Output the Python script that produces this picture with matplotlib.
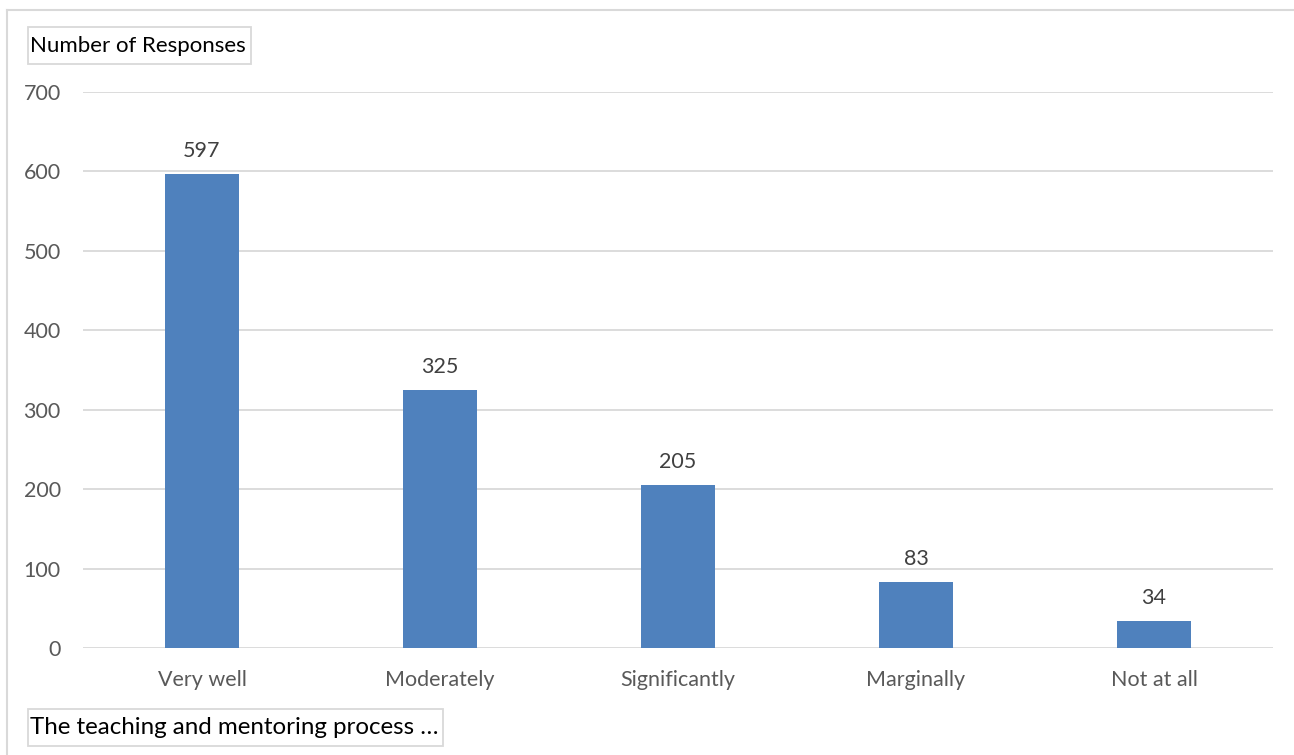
import matplotlib.pyplot as plt
from matplotlib.lines import Line2D
from matplotlib.patches import Rectangle

# data
categories = ['Very well', 'Moderately', 'Significantly', 'Marginally', 'Not at all']
responses = [597, 325, 205, 83, 34]
y_ticks = [0, 100, 200, 300, 400, 500, 600, 700]

W, H = 1294, 755
fig = plt.figure(figsize=(W / 100, H / 100), dpi=100)
fig.patch.set_linewidth(0)
plt.rcParams['font.family'] = ['Lato', 'DejaVu Sans']


def px_box(x0, y0, x1, y1):
    # rectangle given in pixel coords (y measured from top)
    return Rectangle((x0 / W, 1 - y1 / H), (x1 - x0) / W, (y1 - y0) / H,
                     transform=fig.transFigure, facecolor='white',
                     edgecolor='#d9d9d9', linewidth=1.3, zorder=5)


# outer chart border: only the left and top edges are inside the image
fig.lines.append(Line2D([7 / W, 7 / W], [0, 1 - 10 / H], transform=fig.transFigure,
                        color='#d9d9d9', linewidth=1.5))
fig.lines.append(Line2D([7 / W, 1.02], [1 - 10 / H, 1 - 10 / H], transform=fig.transFigure,
                        color='#d9d9d9', linewidth=1.5))

ax = fig.add_axes([83 / W, 1 - 648 / H, (1273 - 83) / W, (648 - 92) / H])

x = range(len(categories))
bars = ax.bar(x, responses, width=0.315, color='#4f81bd', zorder=3)

for xi, v in zip(x, responses):
    ax.text(xi, v + 16, str(v), ha='center', va='bottom',
            fontsize=15.5, color='#404040')

ax.set_xlim(-0.5, len(categories) - 0.5)
ax.set_ylim(0, 700)
ax.set_yticks(y_ticks)
ax.set_xticks(list(x))
ax.set_xticklabels(categories)
ax.tick_params(axis='both', length=0, labelsize=15.5, labelcolor='#595959')
ax.tick_params(axis='x', pad=16)
ax.tick_params(axis='y', pad=16)
ax.grid(axis='y', color='#d9d9d9', linewidth=1.3, zorder=0)
for s in ax.spines.values():
    s.set_visible(False)

# title boxes
fig.patches.append(px_box(28, 27, 251, 64))
fig.text(30 / W, 1 - 46 / H, 'Number of Responses', fontsize=16, color='black',
         va='center', ha='left', zorder=6)
fig.patches.append(px_box(28, 709, 443, 746))
fig.text(30 / W, 1 - 728 / H, 'The teaching and mentoring process \u2026',
         fontsize=17.4, color='black', va='center', ha='left', zorder=6)

fig.savefig('out.png', dpi=100, facecolor='white')
